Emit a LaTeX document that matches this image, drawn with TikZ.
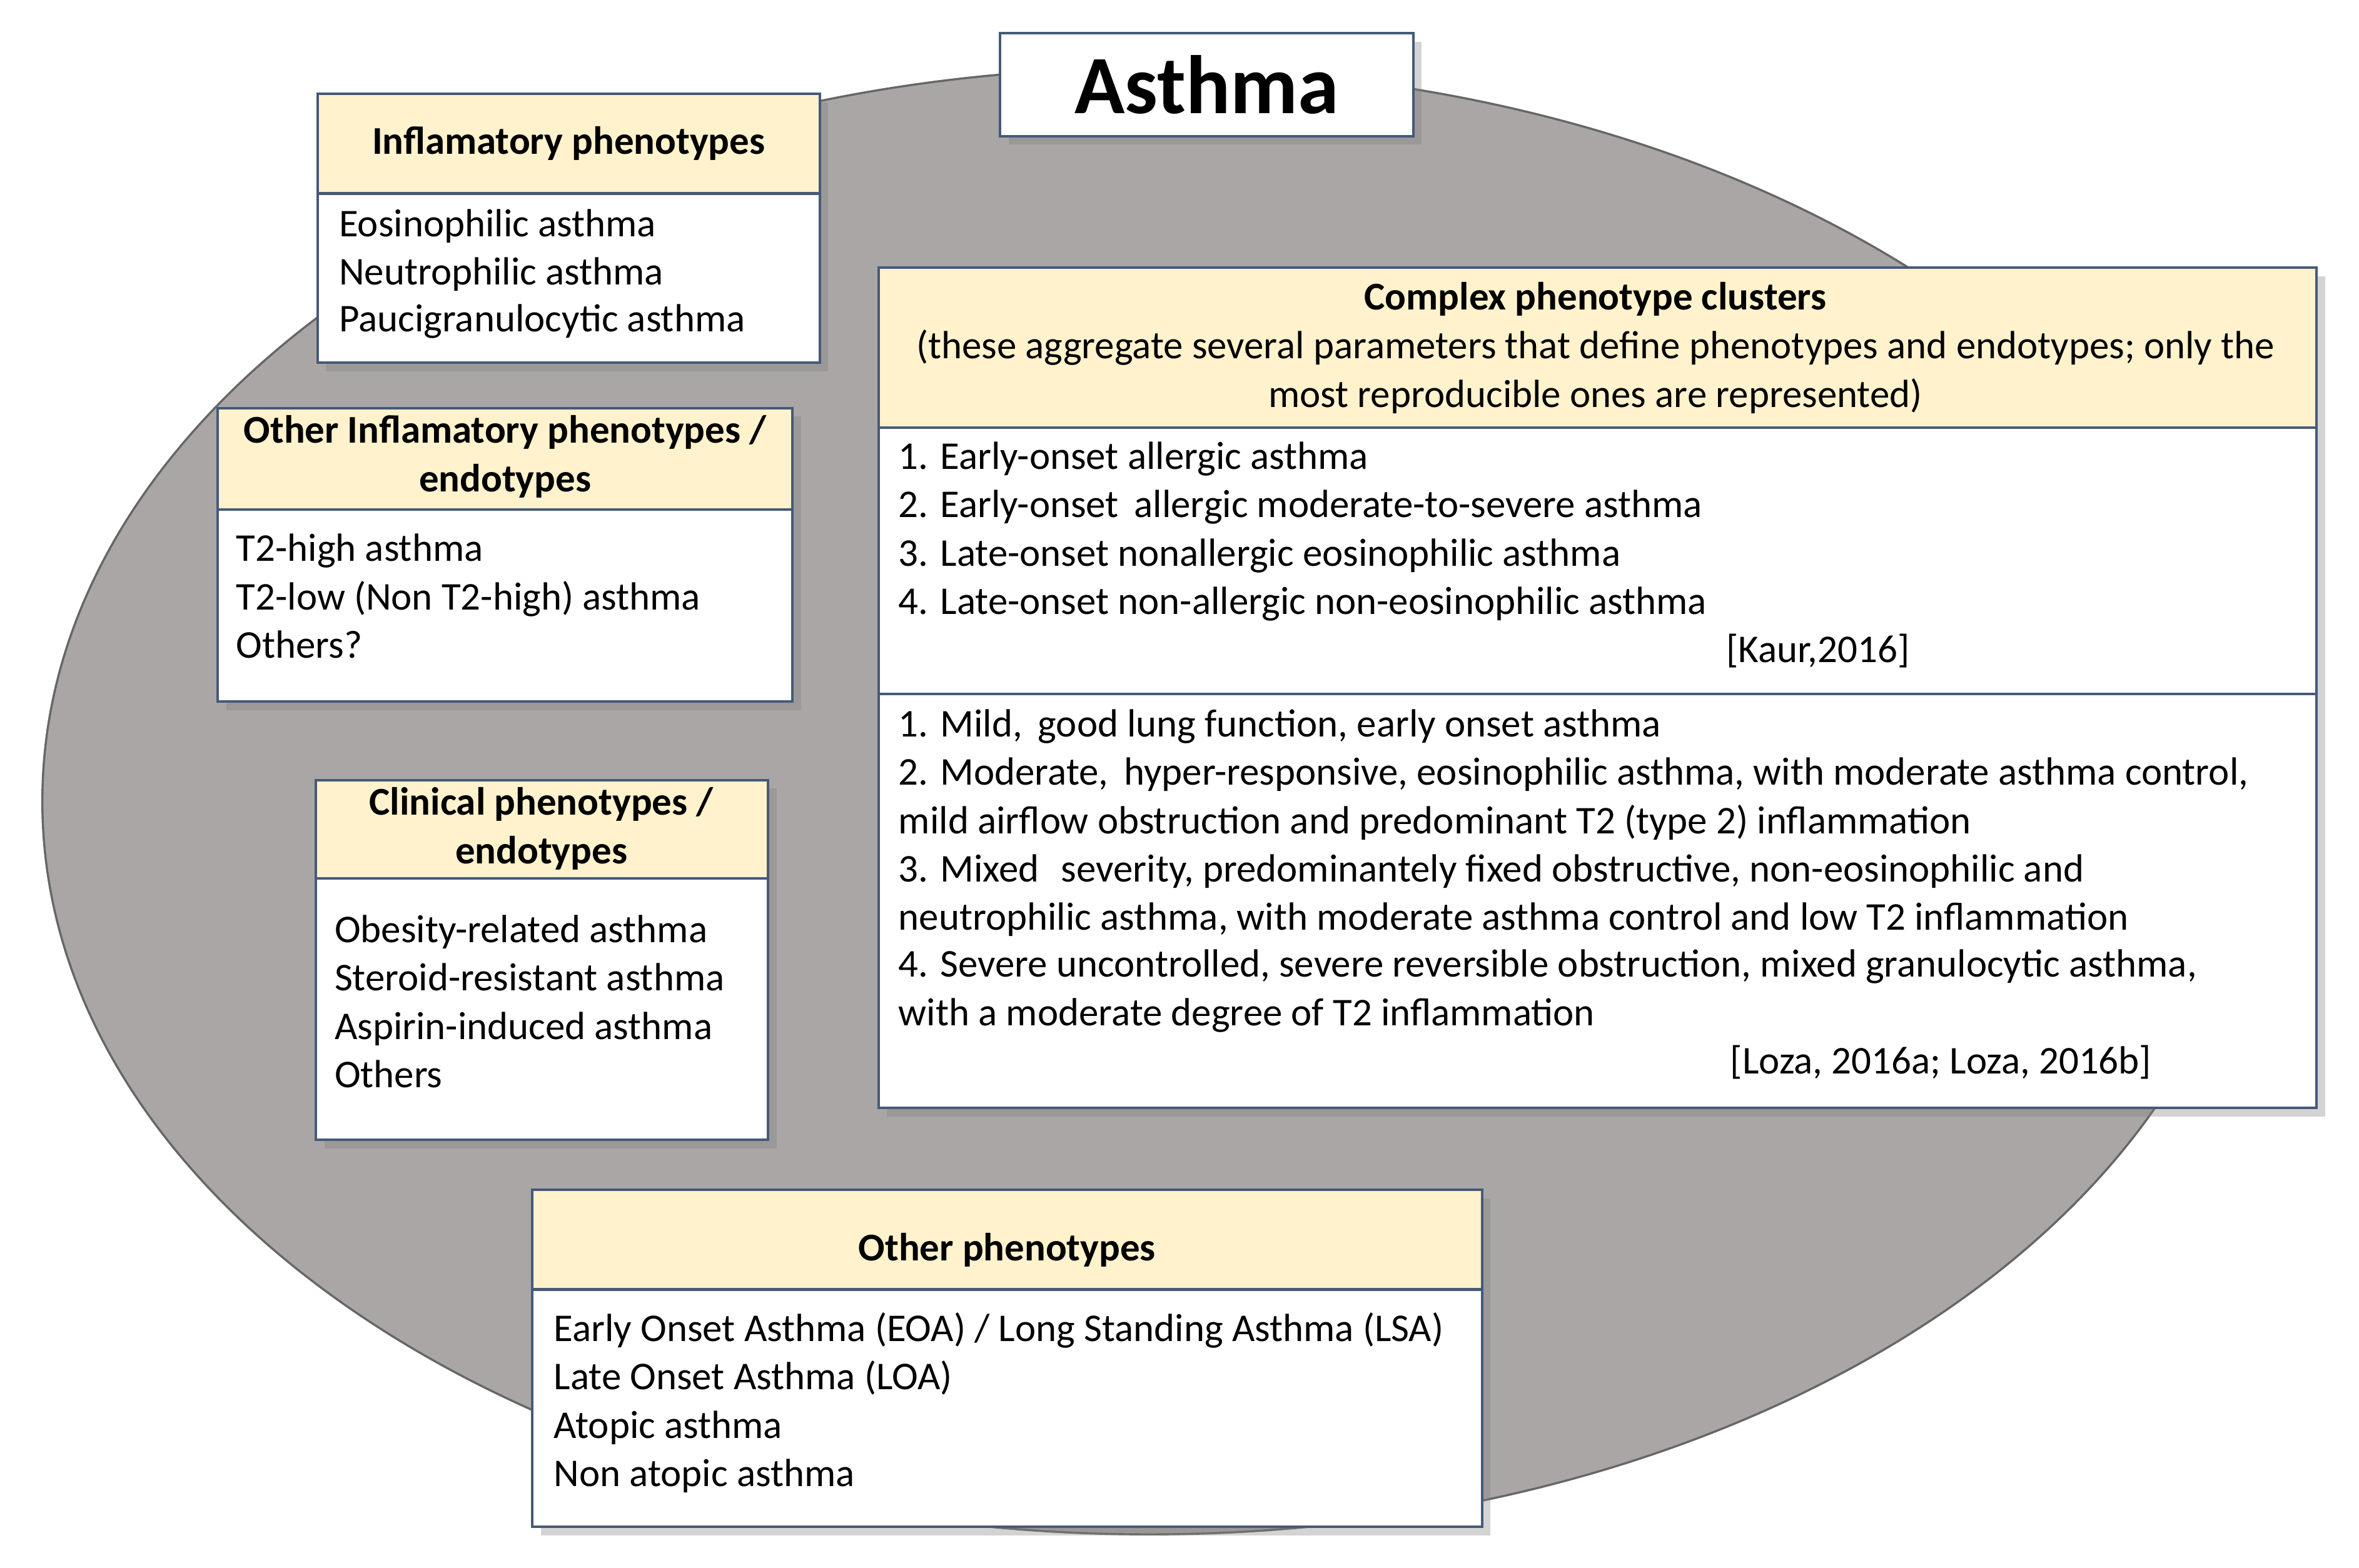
\documentclass[tikz,border=0pt]{standalone}
\usepackage{fontspec}
\setmainfont{Carlito}
\usetikzlibrary{positioning, shadows}
\definecolor{ellgray}{RGB}{170,166,166}
\definecolor{headfill}{RGB}{255,242,204}
\definecolor{boxline}{RGB}{70,90,120}
\tikzset{
    box/.style={draw=boxline, line width=1.2pt, fill=white, drop shadow={opacity=0.35, shadow xshift=4pt, shadow yshift=-4pt}},
    head/.style={draw=boxline, line width=1.2pt, fill=headfill},
    txt/.style={anchor=mid west, inner sep=0pt, font=\fontsize{18.5}{20}\selectfont},
    htxt/.style={inner sep=0pt, align=center, font=\fontsize{18.5}{23}\selectfont\bfseries}
}
\begin{document}
\begin{tikzpicture}[x=0.025cm, y=-0.025cm]
\useasboundingbox (0,0) rectangle (1560,1037);
% background ellipse
\fill[ellgray, draw=black!60, line width=1pt] (760,530) ellipse [x radius=732, y radius=485];

% title
\node[box, minimum width=6.825cm, minimum height=1.7cm, font=\fontsize{39}{40}\selectfont\bfseries] (title) at (798,56) {Asthma};

% inflammatory phenotypes
\draw[box] (210,62) rectangle (542,240);
\draw[head] (210,62) rectangle (542,128);
\node[htxt] (inf) at (376,95) {Inflamatory phenotypes};
\node[txt] (inf1) at (224,153) {Eosinophilic asthma};
\node[txt] (inf2) at (224,185) {Neutrophilic asthma};
\node[txt] (inf3) at (224,216) {Paucigranulocytic asthma};

% other inflammatory
\draw[box] (144,270) rectangle (524,464);
\draw[head] (144,270) rectangle (524,337);
\node[htxt] (oinf) at (334,302) {Other Inflamatory phenotypes /\\endotypes};
\node[txt] (oinf1) at (156,368) {T2-high asthma};
\node[txt] (oinf2) at (156,400) {T2-low (Non T2-high) asthma};
\node[txt] (oinf3) at (156,432) {Others?};

% clinical
\draw[box] (209,516) rectangle (508,754);
\draw[head] (209,516) rectangle (508,581);
\node[htxt] (clin) at (358,548) {Clinical phenotypes /\\endotypes};
\node[txt] (clin1) at (221,620) {Obesity-related asthma};
\node[txt] (clin2) at (221,652) {Steroid-resistant asthma};
\node[txt] (clin3) at (221,684) {Aspirin-induced asthma};
\node[txt] (clin4) at (221,716) {Others};

% complex clusters
\draw[box] (581,177) rectangle (1532,733);
\draw[head] (581,177) rectangle (1532,283);
\draw[boxline, line width=1.2pt] (581,459) -- (1532,459);
\node[htxt] (cx) at (1055,198) {Complex phenotype clusters};
\node[inner sep=0pt, align=center, font=\fontsize{18.5}{23}\selectfont] (cxs) at (1055,246)
    {(these aggregate several parameters that define phenotypes and endotypes; only the\\most reproducible ones are represented)};
\node[txt] (k1) at (594,307) {1. Early-onset allergic asthma};
\node[txt] (k2) at (594,339) {2. Early-onset\, allergic moderate-to-severe asthma};
\node[txt] (k3) at (594,371) {3. Late-onset nonallergic eosinophilic asthma};
\node[txt] (k4) at (594,403) {4. Late-onset non-allergic non-eosinophilic asthma};
\node[txt, anchor=mid east] (kref) at (1263,435) {[Kaur,2016]};
\node[txt] (l1) at (594,484) {1. Mild,\, good lung function, early onset asthma};
\node[txt] (l2) at (594,516) {2. Moderate,\, hyper-responsive, eosinophilic asthma, with moderate asthma control,};
\node[txt] (l2b) at (594,548) {mild airflow obstruction and predominant T2 (type 2) inflammation};
\node[txt] (l3) at (594,580) {3. Mixed\,\, severity, predominantely fixed obstructive, non-eosinophilic and};
\node[txt] (l3b) at (594,612) {neutrophilic asthma, with moderate asthma control and low T2 inflammation};
\node[txt] (l4) at (594,643) {4. Severe uncontrolled, severe reversible obstruction, mixed granulocytic asthma,};
\node[txt] (l4b) at (594,675) {with a moderate degree of T2 inflammation};
\node[txt, anchor=mid east] (lref) at (1423,707) {[Loza, 2016a; Loza, 2016b]};

% other phenotypes
\draw[box] (352,787) rectangle (980,1010);
\draw[head] (352,787) rectangle (980,853);
\node[htxt] (oth) at (666,827) {Other phenotypes};
\node[txt] (oth1) at (366,884) {Early Onset Asthma (EOA) / Long Standing Asthma (LSA)};
\node[txt] (oth2) at (366,916) {Late Onset Asthma (LOA)};
\node[txt] (oth3) at (366,948) {Atopic asthma};
\node[txt] (oth4) at (366,980) {Non atopic asthma};
\end{tikzpicture}
\end{document}
